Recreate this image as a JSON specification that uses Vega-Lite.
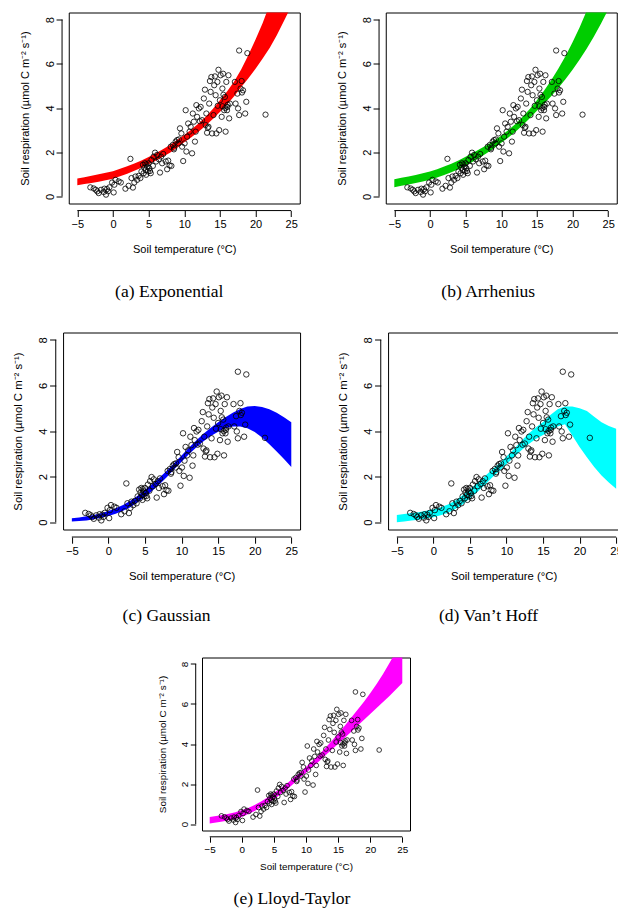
{
  "$schema": "https://vega.github.io/schema/vega-lite/v6.json",
  "background": "white",
  "padding": {"left": 12, "top": 11.5, "right": 0, "bottom": 0},
  "center": true,
  "spacing": 31,
  "datasets": {
    "pts": [
      {"T":-3.17,"R":0.41},{"T":-2.7,"R":0.36},{"T":-2.4,"R":0.3},{"T":-2.2,"R":0.23},{"T":-2.0,"R":0.15},{"T":-1.67,"R":0.3},{"T":-1.3,"R":0.2},{"T":-1.2,"R":0.35},{"T":-0.97,"R":0.08},{"T":-0.83,"R":0.33},{"T":-0.7,"R":0.23},{"T":-0.5,"R":0.41},{"T":-0.12,"R":0.63},{"T":0.1,"R":0.18},{"T":0.2,"R":0.53},{"T":0.35,"R":0.75},{"T":0.8,"R":0.68},{"T":1.1,"R":0.63},{"T":1.75,"R":0.35},{"T":2.2,"R":0.48},{"T":2.45,"R":1.7},{"T":2.6,"R":0.83},{"T":2.8,"R":0.4},{"T":3.0,"R":0.63},{"T":3.15,"R":0.9},{"T":3.4,"R":0.75},{"T":3.6,"R":0.93},{"T":3.85,"R":0.83},{"T":4.0,"R":1.13},{"T":4.2,"R":1.43},{"T":4.3,"R":1.05},{"T":4.4,"R":1.3},{"T":4.5,"R":1.5},{"T":4.6,"R":1.2},{"T":4.65,"R":0.98},{"T":4.7,"R":1.45},{"T":4.8,"R":1.35},{"T":4.9,"R":1.13},{"T":5.0,"R":1.5},{"T":5.1,"R":1.28},{"T":5.2,"R":1.15},{"T":5.3,"R":1.05},{"T":5.4,"R":1.65},{"T":5.6,"R":1.38},{"T":5.7,"R":1.8},{"T":5.9,"R":1.98},{"T":6.05,"R":1.58},{"T":6.2,"R":1.88},{"T":6.45,"R":1.68},{"T":6.6,"R":1.08},{"T":6.75,"R":1.8},{"T":6.9,"R":1.5},{"T":7.05,"R":1.92},{"T":7.4,"R":1.58},{"T":7.6,"R":1.23},{"T":7.75,"R":1.62},{"T":7.95,"R":1.4},{"T":8.1,"R":2.25},{"T":8.2,"R":1.38},{"T":8.4,"R":2.33},{"T":8.55,"R":2.13},{"T":8.6,"R":2.2},{"T":8.8,"R":2.48},{"T":9.0,"R":2.55},{"T":9.2,"R":2.4},{"T":9.25,"R":2.58},{"T":9.4,"R":3.08},{"T":9.6,"R":2.85},{"T":9.7,"R":2.25},{"T":9.85,"R":1.6},{"T":10.05,"R":2.4},{"T":10.2,"R":3.9},{"T":10.3,"R":2.03},{"T":10.4,"R":2.7},{"T":10.55,"R":3.3},{"T":10.75,"R":2.93},{"T":10.9,"R":3.15},{"T":11.1,"R":1.95},{"T":11.2,"R":3.75},{"T":11.35,"R":3.38},{"T":11.5,"R":2.48},{"T":11.6,"R":2.93},{"T":11.7,"R":4.13},{"T":11.8,"R":3.6},{"T":12.05,"R":3.98},{"T":12.2,"R":3.4},{"T":12.3,"R":4.05},{"T":12.5,"R":3.45},{"T":12.75,"R":4.43},{"T":12.9,"R":4.83},{"T":13.0,"R":3.23},{"T":13.1,"R":3.75},{"T":13.2,"R":2.88},{"T":13.3,"R":3.1},{"T":13.4,"R":3.15},{"T":13.5,"R":4.2},{"T":13.6,"R":5.22},{"T":13.7,"R":4.73},{"T":13.8,"R":5.4},{"T":13.9,"R":2.85},{"T":14.1,"R":3.68},{"T":14.2,"R":5.03},{"T":14.3,"R":5.43},{"T":14.4,"R":4.58},{"T":14.5,"R":2.85},{"T":14.65,"R":5.18},{"T":14.7,"R":4.1},{"T":14.8,"R":5.73},{"T":14.9,"R":3.0},{"T":15.0,"R":4.35},{"T":15.1,"R":5.48},{"T":15.25,"R":3.6},{"T":15.35,"R":4.88},{"T":15.35,"R":4.08},{"T":15.45,"R":5.55},{"T":15.5,"R":4.6},{"T":15.6,"R":3.9},{"T":15.7,"R":4.5},{"T":15.75,"R":4.0},{"T":15.8,"R":2.93},{"T":15.9,"R":5.18},{"T":16.0,"R":3.9},{"T":16.05,"R":4.05},{"T":16.1,"R":4.15},{"T":16.2,"R":5.48},{"T":16.3,"R":3.53},{"T":16.4,"R":4.2},{"T":17.1,"R":5.18},{"T":17.2,"R":4.2},{"T":17.45,"R":4.65},{"T":17.55,"R":3.98},{"T":17.7,"R":6.6},{"T":17.7,"R":3.68},{"T":17.9,"R":4.88},{"T":18.05,"R":5.22},{"T":18.1,"R":4.7},{"T":18.25,"R":4.8},{"T":18.55,"R":3.75},{"T":18.7,"R":4.28},{"T":18.85,"R":6.48},{"T":21.4,"R":3.7}
    ],
    "bands": [
      {"m":"a","T":-5,"lo":0.51,"hi":0.81},{"m":"a","T":-4,"lo":0.56,"hi":0.87},{"m":"a","T":-3,"lo":0.61,"hi":0.93},{"m":"a","T":-2,"lo":0.66,"hi":1.0},{"m":"a","T":-1,"lo":0.73,"hi":1.07},{"m":"a","T":0,"lo":0.8,"hi":1.14},{"m":"a","T":1,"lo":0.91,"hi":1.25},{"m":"a","T":2,"lo":1.03,"hi":1.36},{"m":"a","T":3,"lo":1.16,"hi":1.49},{"m":"a","T":4,"lo":1.3,"hi":1.63},{"m":"a","T":5,"lo":1.45,"hi":1.78},{"m":"a","T":6,"lo":1.61,"hi":1.95},{"m":"a","T":7,"lo":1.79,"hi":2.13},{"m":"a","T":8,"lo":1.98,"hi":2.33},{"m":"a","T":9,"lo":2.2,"hi":2.55},{"m":"a","T":10,"lo":2.45,"hi":2.78},{"m":"a","T":11,"lo":2.68,"hi":3.03},{"m":"a","T":12,"lo":2.93,"hi":3.3},{"m":"a","T":13,"lo":3.2,"hi":3.6},{"m":"a","T":14,"lo":3.5,"hi":3.95},{"m":"a","T":15,"lo":3.82,"hi":4.35},{"m":"a","T":16,"lo":4.16,"hi":4.75},{"m":"a","T":17,"lo":4.53,"hi":5.2},{"m":"a","T":18,"lo":4.95,"hi":5.75},{"m":"a","T":19,"lo":5.35,"hi":6.4},{"m":"a","T":20,"lo":5.78,"hi":7.1},{"m":"a","T":21,"lo":6.24,"hi":7.85},{"m":"a","T":22,"lo":6.73,"hi":8.7},{"m":"a","T":23,"lo":7.3,"hi":9.6},{"m":"a","T":24,"lo":7.95,"hi":10.6},{"m":"a","T":25,"lo":8.6,"hi":11.7},
      {"m":"b","T":-5,"lo":0.42,"hi":0.78},{"m":"b","T":-4,"lo":0.48,"hi":0.84},{"m":"b","T":-3,"lo":0.54,"hi":0.9},{"m":"b","T":-2,"lo":0.61,"hi":0.97},{"m":"b","T":-1,"lo":0.68,"hi":1.05},{"m":"b","T":0,"lo":0.76,"hi":1.13},{"m":"b","T":1,"lo":0.86,"hi":1.23},{"m":"b","T":2,"lo":0.97,"hi":1.35},{"m":"b","T":3,"lo":1.09,"hi":1.48},{"m":"b","T":4,"lo":1.23,"hi":1.63},{"m":"b","T":5,"lo":1.4,"hi":1.8},{"m":"b","T":6,"lo":1.57,"hi":1.96},{"m":"b","T":7,"lo":1.76,"hi":2.14},{"m":"b","T":8,"lo":1.96,"hi":2.33},{"m":"b","T":9,"lo":2.18,"hi":2.53},{"m":"b","T":10,"lo":2.43,"hi":2.75},{"m":"b","T":11,"lo":2.67,"hi":3.0},{"m":"b","T":12,"lo":2.93,"hi":3.28},{"m":"b","T":13,"lo":3.22,"hi":3.6},{"m":"b","T":14,"lo":3.54,"hi":3.95},{"m":"b","T":15,"lo":3.88,"hi":4.35},{"m":"b","T":16,"lo":4.19,"hi":4.78},{"m":"b","T":17,"lo":4.53,"hi":5.25},{"m":"b","T":18,"lo":4.9,"hi":5.77},{"m":"b","T":19,"lo":5.3,"hi":6.34},{"m":"b","T":20,"lo":5.73,"hi":6.97},{"m":"b","T":21,"lo":6.19,"hi":7.65},{"m":"b","T":22,"lo":6.69,"hi":8.41},{"m":"b","T":23,"lo":7.23,"hi":9.24},{"m":"b","T":24,"lo":7.82,"hi":10.15},{"m":"b","T":25,"lo":8.45,"hi":11.15},
      {"m":"c","T":-5,"lo":0.03,"hi":0.17},{"m":"c","T":-4,"lo":0.05,"hi":0.21},{"m":"c","T":-3,"lo":0.08,"hi":0.26},{"m":"c","T":-2,"lo":0.13,"hi":0.32},{"m":"c","T":-1,"lo":0.19,"hi":0.39},{"m":"c","T":0,"lo":0.27,"hi":0.49},{"m":"c","T":1,"lo":0.37,"hi":0.61},{"m":"c","T":2,"lo":0.5,"hi":0.76},{"m":"c","T":3,"lo":0.66,"hi":0.94},{"m":"c","T":4,"lo":0.87,"hi":1.16},{"m":"c","T":5,"lo":1.12,"hi":1.42},{"m":"c","T":6,"lo":1.38,"hi":1.68},{"m":"c","T":7,"lo":1.67,"hi":1.96},{"m":"c","T":8,"lo":1.98,"hi":2.27},{"m":"c","T":9,"lo":2.32,"hi":2.6},{"m":"c","T":10,"lo":2.65,"hi":2.93},{"m":"c","T":11,"lo":2.98,"hi":3.27},{"m":"c","T":12,"lo":3.28,"hi":3.58},{"m":"c","T":13,"lo":3.55,"hi":3.88},{"m":"c","T":14,"lo":3.78,"hi":4.14},{"m":"c","T":15,"lo":3.97,"hi":4.38},{"m":"c","T":16,"lo":4.12,"hi":4.6},{"m":"c","T":17,"lo":4.2,"hi":4.8},{"m":"c","T":18,"lo":4.2,"hi":4.97},{"m":"c","T":19,"lo":4.12,"hi":5.08},{"m":"c","T":20,"lo":3.96,"hi":5.1},{"m":"c","T":21,"lo":3.72,"hi":5.05},{"m":"c","T":22,"lo":3.42,"hi":4.95},{"m":"c","T":23,"lo":3.1,"hi":4.8},{"m":"c","T":24,"lo":2.77,"hi":4.6},{"m":"c","T":25,"lo":2.42,"hi":4.38},
      {"m":"d","T":-5,"lo":0.0,"hi":0.32},{"m":"d","T":-4,"lo":0.03,"hi":0.36},{"m":"d","T":-3,"lo":0.07,"hi":0.4},{"m":"d","T":-2,"lo":0.11,"hi":0.44},{"m":"d","T":-1,"lo":0.16,"hi":0.5},{"m":"d","T":0,"lo":0.22,"hi":0.57},{"m":"d","T":1,"lo":0.3,"hi":0.66},{"m":"d","T":2,"lo":0.42,"hi":0.78},{"m":"d","T":3,"lo":0.58,"hi":0.95},{"m":"d","T":4,"lo":0.78,"hi":1.18},{"m":"d","T":5,"lo":1.05,"hi":1.45},{"m":"d","T":6,"lo":1.32,"hi":1.72},{"m":"d","T":7,"lo":1.62,"hi":2.0},{"m":"d","T":8,"lo":1.95,"hi":2.3},{"m":"d","T":9,"lo":2.25,"hi":2.58},{"m":"d","T":10,"lo":2.55,"hi":2.88},{"m":"d","T":11,"lo":2.85,"hi":3.2},{"m":"d","T":12,"lo":3.15,"hi":3.55},{"m":"d","T":13,"lo":3.42,"hi":3.88},{"m":"d","T":14,"lo":3.65,"hi":4.15},{"m":"d","T":15,"lo":3.82,"hi":4.4},{"m":"d","T":16,"lo":4.0,"hi":4.7},{"m":"d","T":17,"lo":4.2,"hi":4.95},{"m":"d","T":18,"lo":4.3,"hi":5.08},{"m":"d","T":19,"lo":3.8,"hi":5.08},{"m":"d","T":20,"lo":3.3,"hi":5.0},{"m":"d","T":21,"lo":2.85,"hi":4.88},{"m":"d","T":22,"lo":2.42,"hi":4.62},{"m":"d","T":23,"lo":2.05,"hi":4.38},{"m":"d","T":24,"lo":1.74,"hi":4.22},{"m":"d","T":25,"lo":1.47,"hi":4.1},
      {"m":"e","T":-5,"lo":0.03,"hi":0.35},{"m":"e","T":-4,"lo":0.08,"hi":0.4},{"m":"e","T":-3,"lo":0.13,"hi":0.46},{"m":"e","T":-2,"lo":0.19,"hi":0.52},{"m":"e","T":-1,"lo":0.26,"hi":0.59},{"m":"e","T":0,"lo":0.36,"hi":0.7},{"m":"e","T":1,"lo":0.5,"hi":0.8},{"m":"e","T":2,"lo":0.65,"hi":0.95},{"m":"e","T":3,"lo":0.85,"hi":1.13},{"m":"e","T":4,"lo":1.04,"hi":1.33},{"m":"e","T":5,"lo":1.24,"hi":1.55},{"m":"e","T":6,"lo":1.48,"hi":1.78},{"m":"e","T":7,"lo":1.72,"hi":2.02},{"m":"e","T":8,"lo":2.0,"hi":2.3},{"m":"e","T":9,"lo":2.28,"hi":2.55},{"m":"e","T":10,"lo":2.57,"hi":2.85},{"m":"e","T":11,"lo":2.85,"hi":3.15},{"m":"e","T":12,"lo":3.12,"hi":3.45},{"m":"e","T":13,"lo":3.42,"hi":3.8},{"m":"e","T":14,"lo":3.72,"hi":4.15},{"m":"e","T":15,"lo":4.0,"hi":4.52},{"m":"e","T":16,"lo":4.3,"hi":4.9},{"m":"e","T":17,"lo":4.6,"hi":5.3},{"m":"e","T":18,"lo":4.9,"hi":5.7},{"m":"e","T":19,"lo":5.2,"hi":6.1},{"m":"e","T":20,"lo":5.5,"hi":6.53},{"m":"e","T":21,"lo":5.8,"hi":7.0},{"m":"e","T":22,"lo":6.1,"hi":7.5},{"m":"e","T":23,"lo":6.4,"hi":8.05},{"m":"e","T":24,"lo":6.72,"hi":8.6},{"m":"e","T":25,"lo":7.05,"hi":9.15}
    ]
  },
  "vconcat": [
    {
      "spacing": 34,
      "hconcat": [
        {
          "width": 231, "height": 191,
          "title": {"text": "(a) Exponential", "orient": "bottom", "anchor": "middle", "dx": -15, "offset": 28, "fontSize": 17.5, "baseline": "top"},
          "layer": [
            {"data": {"name": "bands"}, "transform": [{"filter": "datum.m == 'a'"}],
             "mark": {"type": "area", "color": "#ff0000", "opacity": 1, "clip": true},
             "encoding": {
               "x": {"field": "T", "type": "quantitative", "scale": {"domain": [-6.2, 26.2], "nice": false, "zero": false},
                     "axis": {"values": [-5, 0, 5, 10, 15, 20, 25], "labelOverlap": false, "offset": 7, "tickSize": 6, "labelFontSize": 11, "labelPadding": 2, "titleFontSize": 11, "titlePadding": 14, "title": "Soil temperature (°C)"}},
               "y": {"field": "lo", "type": "quantitative", "scale": {"domain": [-0.32, 8.32], "nice": false, "zero": false},
                     "axis": {"values": [0, 2, 4, 6, 8], "labelOverlap": false, "offset": 6.7, "tickSize": 6, "labelFontSize": 11, "labelPadding": 3, "titleFontSize": 11, "titlePadding": 14, "title": "Soil respiration (µmol C m⁻² s⁻¹)"}},
               "y2": {"field": "hi"}
             }},
            {"data": {"name": "pts"},
             "mark": {"type": "point", "shape": "circle", "filled": false, "color": "black", "opacity": 1, "strokeWidth": 0.8, "size": 28},
             "encoding": {
               "x": {"field": "T", "type": "quantitative", "axis": {"values": [-5, 0, 5, 10, 15, 20, 25], "labelOverlap": false, "offset": 7, "tickSize": 6, "labelFontSize": 11, "labelPadding": 2, "titleFontSize": 11, "titlePadding": 14, "title": "Soil temperature (°C)"}},
               "y": {"field": "R", "type": "quantitative", "axis": {"values": [0, 2, 4, 6, 8], "labelOverlap": false, "offset": 6.7, "tickSize": 6, "labelFontSize": 11, "labelPadding": 3, "titleFontSize": 11, "titlePadding": 14, "title": "Soil respiration (µmol C m⁻² s⁻¹)"}}}},
            {"data": {"values": [{"x1": -5, "x2": 25, "y0": -0.64, "xa": -7.14, "y1": 0, "y2": 8}]},
             "layer": [
               {"mark": {"type": "rule", "color": "black", "strokeWidth": 1},
                "encoding": {"x": {"field": "x1", "type": "quantitative", "axis": {"values": [-5, 0, 5, 10, 15, 20, 25], "labelOverlap": false, "offset": 7, "tickSize": 6, "labelFontSize": 11, "labelPadding": 2, "titleFontSize": 11, "titlePadding": 14, "title": "Soil temperature (°C)"}}, "x2": {"field": "x2"}, "y": {"field": "y0", "type": "quantitative", "axis": {"values": [0, 2, 4, 6, 8], "labelOverlap": false, "offset": 6.7, "tickSize": 6, "labelFontSize": 11, "labelPadding": 3, "titleFontSize": 11, "titlePadding": 14, "title": "Soil respiration (µmol C m⁻² s⁻¹)"}}}},
               {"mark": {"type": "rule", "color": "black", "strokeWidth": 1},
                "encoding": {"x": {"field": "xa", "type": "quantitative", "axis": {"values": [-5, 0, 5, 10, 15, 20, 25], "labelOverlap": false, "offset": 7, "tickSize": 6, "labelFontSize": 11, "labelPadding": 2, "titleFontSize": 11, "titlePadding": 14, "title": "Soil temperature (°C)"}}, "y": {"field": "y1", "type": "quantitative", "axis": {"values": [0, 2, 4, 6, 8], "labelOverlap": false, "offset": 6.7, "tickSize": 6, "labelFontSize": 11, "labelPadding": 3, "titleFontSize": 11, "titlePadding": 14, "title": "Soil respiration (µmol C m⁻² s⁻¹)"}}, "y2": {"field": "y2"}}}
             ]}
          ]
        },
        {
          "width": 231, "height": 191,
          "title": {"text": "(b) Arrhenius", "orient": "bottom", "anchor": "middle", "dx": -13, "offset": 28, "fontSize": 17.5, "baseline": "top"},
          "layer": [
            {"data": {"name": "bands"}, "transform": [{"filter": "datum.m == 'b'"}],
             "mark": {"type": "area", "color": "#00cd00", "opacity": 1, "clip": true},
             "encoding": {
               "x": {"field": "T", "type": "quantitative", "scale": {"domain": [-6.2, 26.2], "nice": false, "zero": false},
                     "axis": {"values": [-5, 0, 5, 10, 15, 20, 25], "labelOverlap": false, "offset": 7, "tickSize": 6, "labelFontSize": 11, "labelPadding": 2, "titleFontSize": 11, "titlePadding": 14, "title": "Soil temperature (°C)"}},
               "y": {"field": "lo", "type": "quantitative", "scale": {"domain": [-0.32, 8.32], "nice": false, "zero": false},
                     "axis": {"values": [0, 2, 4, 6, 8], "labelOverlap": false, "offset": 6.7, "tickSize": 6, "labelFontSize": 11, "labelPadding": 3, "titleFontSize": 11, "titlePadding": 14, "title": "Soil respiration (µmol C m⁻² s⁻¹)"}},
               "y2": {"field": "hi"}
             }},
            {"data": {"name": "pts"},
             "mark": {"type": "point", "shape": "circle", "filled": false, "color": "black", "opacity": 1, "strokeWidth": 0.8, "size": 28},
             "encoding": {
               "x": {"field": "T", "type": "quantitative", "axis": {"values": [-5, 0, 5, 10, 15, 20, 25], "labelOverlap": false, "offset": 7, "tickSize": 6, "labelFontSize": 11, "labelPadding": 2, "titleFontSize": 11, "titlePadding": 14, "title": "Soil temperature (°C)"}},
               "y": {"field": "R", "type": "quantitative", "axis": {"values": [0, 2, 4, 6, 8], "labelOverlap": false, "offset": 6.7, "tickSize": 6, "labelFontSize": 11, "labelPadding": 3, "titleFontSize": 11, "titlePadding": 14, "title": "Soil respiration (µmol C m⁻² s⁻¹)"}}}},
            {"data": {"values": [{"x1": -5, "x2": 25, "y0": -0.64, "xa": -7.14, "y1": 0, "y2": 8}]},
             "layer": [
               {"mark": {"type": "rule", "color": "black", "strokeWidth": 1},
                "encoding": {"x": {"field": "x1", "type": "quantitative", "axis": {"values": [-5, 0, 5, 10, 15, 20, 25], "labelOverlap": false, "offset": 7, "tickSize": 6, "labelFontSize": 11, "labelPadding": 2, "titleFontSize": 11, "titlePadding": 14, "title": "Soil temperature (°C)"}}, "x2": {"field": "x2"}, "y": {"field": "y0", "type": "quantitative", "axis": {"values": [0, 2, 4, 6, 8], "labelOverlap": false, "offset": 6.7, "tickSize": 6, "labelFontSize": 11, "labelPadding": 3, "titleFontSize": 11, "titlePadding": 14, "title": "Soil respiration (µmol C m⁻² s⁻¹)"}}}},
               {"mark": {"type": "rule", "color": "black", "strokeWidth": 1},
                "encoding": {"x": {"field": "xa", "type": "quantitative", "axis": {"values": [-5, 0, 5, 10, 15, 20, 25], "labelOverlap": false, "offset": 7, "tickSize": 6, "labelFontSize": 11, "labelPadding": 2, "titleFontSize": 11, "titlePadding": 14, "title": "Soil temperature (°C)"}}, "y": {"field": "y1", "type": "quantitative", "axis": {"values": [0, 2, 4, 6, 8], "labelOverlap": false, "offset": 6.7, "tickSize": 6, "labelFontSize": 11, "labelPadding": 3, "titleFontSize": 11, "titlePadding": 14, "title": "Soil respiration (µmol C m⁻² s⁻¹)"}}, "y2": {"field": "y2"}}}
             ]}
          ]
        }
      ]
    },
    {
      "spacing": 36,
      "hconcat": [
        {
          "width": 237, "height": 197,
          "title": {"text": "(c) Gaussian", "orient": "bottom", "anchor": "middle", "dx": -15, "offset": 25, "fontSize": 17.5, "baseline": "top"},
          "layer": [
            {"data": {"name": "bands"}, "transform": [{"filter": "datum.m == 'c'"}],
             "mark": {"type": "area", "color": "#0000ff", "opacity": 1, "clip": true},
             "encoding": {
               "x": {"field": "T", "type": "quantitative", "scale": {"domain": [-6.2, 26.2], "nice": false, "zero": false},
                     "axis": {"values": [-5, 0, 5, 10, 15, 20, 25], "labelOverlap": false, "offset": 7.5, "tickSize": 6.2, "labelFontSize": 11.3, "labelPadding": 2, "titleFontSize": 11.3, "titlePadding": 14, "title": "Soil temperature (°C)"}},
               "y": {"field": "lo", "type": "quantitative", "scale": {"domain": [-0.32, 8.32], "nice": false, "zero": false},
                     "axis": {"values": [0, 2, 4, 6, 8], "labelOverlap": false, "offset": 7.3, "tickSize": 6.2, "labelFontSize": 11.3, "labelPadding": 3, "titleFontSize": 11.3, "titlePadding": 14, "title": "Soil respiration (µmol C m⁻² s⁻¹)"}},
               "y2": {"field": "hi"}
             }},
            {"data": {"name": "pts"},
             "mark": {"type": "point", "shape": "circle", "filled": false, "color": "black", "opacity": 1, "strokeWidth": 0.8, "size": 30},
             "encoding": {
               "x": {"field": "T", "type": "quantitative", "axis": {"values": [-5, 0, 5, 10, 15, 20, 25], "labelOverlap": false, "offset": 7.5, "tickSize": 6.2, "labelFontSize": 11.3, "labelPadding": 2, "titleFontSize": 11.3, "titlePadding": 14, "title": "Soil temperature (°C)"}},
               "y": {"field": "R", "type": "quantitative", "axis": {"values": [0, 2, 4, 6, 8], "labelOverlap": false, "offset": 7.3, "tickSize": 6.2, "labelFontSize": 11.3, "labelPadding": 3, "titleFontSize": 11.3, "titlePadding": 14, "title": "Soil respiration (µmol C m⁻² s⁻¹)"}}}},
            {"data": {"values": [{"x1": -5, "x2": 25, "y0": -0.65, "xa": -7.2, "y1": 0, "y2": 8}]},
             "layer": [
               {"mark": {"type": "rule", "color": "black", "strokeWidth": 1},
                "encoding": {"x": {"field": "x1", "type": "quantitative", "axis": {"values": [-5, 0, 5, 10, 15, 20, 25], "labelOverlap": false, "offset": 7.5, "tickSize": 6.2, "labelFontSize": 11.3, "labelPadding": 2, "titleFontSize": 11.3, "titlePadding": 14, "title": "Soil temperature (°C)"}}, "x2": {"field": "x2"}, "y": {"field": "y0", "type": "quantitative", "axis": {"values": [0, 2, 4, 6, 8], "labelOverlap": false, "offset": 7.3, "tickSize": 6.2, "labelFontSize": 11.3, "labelPadding": 3, "titleFontSize": 11.3, "titlePadding": 14, "title": "Soil respiration (µmol C m⁻² s⁻¹)"}}}},
               {"mark": {"type": "rule", "color": "black", "strokeWidth": 1},
                "encoding": {"x": {"field": "xa", "type": "quantitative", "axis": {"values": [-5, 0, 5, 10, 15, 20, 25], "labelOverlap": false, "offset": 7.5, "tickSize": 6.2, "labelFontSize": 11.3, "labelPadding": 2, "titleFontSize": 11.3, "titlePadding": 14, "title": "Soil temperature (°C)"}}, "y": {"field": "y1", "type": "quantitative", "axis": {"values": [0, 2, 4, 6, 8], "labelOverlap": false, "offset": 7.3, "tickSize": 6.2, "labelFontSize": 11.3, "labelPadding": 3, "titleFontSize": 11.3, "titlePadding": 14, "title": "Soil respiration (µmol C m⁻² s⁻¹)"}}, "y2": {"field": "y2"}}}
             ]}
          ]
        },
        {
          "width": 231, "height": 197,
          "title": {"text": "(d) Van’t Hoff", "orient": "bottom", "anchor": "middle", "dx": -15, "offset": 25, "fontSize": 17.5, "baseline": "top"},
          "layer": [
            {"data": {"name": "bands"}, "transform": [{"filter": "datum.m == 'd'"}],
             "mark": {"type": "area", "color": "#00ffff", "opacity": 1, "clip": true},
             "encoding": {
               "x": {"field": "T", "type": "quantitative", "scale": {"domain": [-6.2, 25.4], "nice": false, "zero": false},
                     "axis": {"values": [-5, 0, 5, 10, 15, 20, 25], "labelOverlap": false, "offset": 7.5, "tickSize": 6.2, "labelFontSize": 11.3, "labelPadding": 2, "titleFontSize": 11.3, "titlePadding": 14, "title": "Soil temperature (°C)"}},
               "y": {"field": "lo", "type": "quantitative", "scale": {"domain": [-0.32, 8.32], "nice": false, "zero": false},
                     "axis": {"values": [0, 2, 4, 6, 8], "labelOverlap": false, "offset": 7.3, "tickSize": 6.2, "labelFontSize": 11.3, "labelPadding": 3, "titleFontSize": 11.3, "titlePadding": 14, "title": "Soil respiration (µmol C m⁻² s⁻¹)"}},
               "y2": {"field": "hi"}
             }},
            {"data": {"name": "pts"},
             "mark": {"type": "point", "shape": "circle", "filled": false, "color": "black", "opacity": 1, "strokeWidth": 0.8, "size": 30},
             "encoding": {
               "x": {"field": "T", "type": "quantitative", "axis": {"values": [-5, 0, 5, 10, 15, 20, 25], "labelOverlap": false, "offset": 7.5, "tickSize": 6.2, "labelFontSize": 11.3, "labelPadding": 2, "titleFontSize": 11.3, "titlePadding": 14, "title": "Soil temperature (°C)"}},
               "y": {"field": "R", "type": "quantitative", "axis": {"values": [0, 2, 4, 6, 8], "labelOverlap": false, "offset": 7.3, "tickSize": 6.2, "labelFontSize": 11.3, "labelPadding": 3, "titleFontSize": 11.3, "titlePadding": 14, "title": "Soil respiration (µmol C m⁻² s⁻¹)"}}}},
            {"data": {"values": [{"x1": -5, "x2": 25, "y0": -0.65, "xa": -7.2, "y1": 0, "y2": 8}]},
             "layer": [
               {"mark": {"type": "rule", "color": "black", "strokeWidth": 1},
                "encoding": {"x": {"field": "x1", "type": "quantitative", "axis": {"values": [-5, 0, 5, 10, 15, 20, 25], "labelOverlap": false, "offset": 7.5, "tickSize": 6.2, "labelFontSize": 11.3, "labelPadding": 2, "titleFontSize": 11.3, "titlePadding": 14, "title": "Soil temperature (°C)"}}, "x2": {"field": "x2"}, "y": {"field": "y0", "type": "quantitative", "axis": {"values": [0, 2, 4, 6, 8], "labelOverlap": false, "offset": 7.3, "tickSize": 6.2, "labelFontSize": 11.3, "labelPadding": 3, "titleFontSize": 11.3, "titlePadding": 14, "title": "Soil respiration (µmol C m⁻² s⁻¹)"}}}},
               {"mark": {"type": "rule", "color": "black", "strokeWidth": 1},
                "encoding": {"x": {"field": "xa", "type": "quantitative", "axis": {"values": [-5, 0, 5, 10, 15, 20, 25], "labelOverlap": false, "offset": 7.5, "tickSize": 6.2, "labelFontSize": 11.3, "labelPadding": 2, "titleFontSize": 11.3, "titlePadding": 14, "title": "Soil temperature (°C)"}}, "y": {"field": "y1", "type": "quantitative", "axis": {"values": [0, 2, 4, 6, 8], "labelOverlap": false, "offset": 7.3, "tickSize": 6.2, "labelFontSize": 11.3, "labelPadding": 3, "titleFontSize": 11.3, "titlePadding": 14, "title": "Soil respiration (µmol C m⁻² s⁻¹)"}}, "y2": {"field": "y2"}}}
             ]}
          ]
        }
      ]
    },
    {
      "spacing": 0,
      "hconcat": [
        {
          "width": 208, "height": 173,
          "title": {"text": "(e) Lloyd-Taylor", "orient": "bottom", "anchor": "middle", "dx": -14, "offset": 18, "fontSize": 17.5, "baseline": "top"},
          "layer": [
            {"data": {"name": "bands"}, "transform": [{"filter": "datum.m == 'e'"}],
             "mark": {"type": "area", "color": "#ff00ff", "opacity": 1, "clip": true},
             "encoding": {
               "x": {"field": "T", "type": "quantitative", "scale": {"domain": [-6.2, 26.2], "nice": false, "zero": false},
                     "axis": {"values": [-5, 0, 5, 10, 15, 20, 25], "labelOverlap": false, "offset": 6.3, "tickSize": 5.4, "labelFontSize": 9.9, "labelPadding": 1.8, "titleFontSize": 9.9, "titlePadding": 8, "title": "Soil temperature (°C)"}},
               "y": {"field": "lo", "type": "quantitative", "scale": {"domain": [-0.32, 8.32], "nice": false, "zero": false},
                     "axis": {"values": [0, 2, 4, 6, 8], "labelOverlap": false, "offset": 6.3, "tickSize": 5.4, "labelFontSize": 9.9, "labelPadding": 2.7, "titleFontSize": 9.9, "titlePadding": 12.6, "title": "Soil respiration (µmol C m⁻² s⁻¹)"}},
               "y2": {"field": "hi"}
             }},
            {"data": {"name": "pts"},
             "mark": {"type": "point", "shape": "circle", "filled": false, "color": "black", "opacity": 1, "strokeWidth": 0.75, "size": 22},
             "encoding": {
               "x": {"field": "T", "type": "quantitative", "axis": {"values": [-5, 0, 5, 10, 15, 20, 25], "labelOverlap": false, "offset": 6.3, "tickSize": 5.4, "labelFontSize": 9.9, "labelPadding": 1.8, "titleFontSize": 9.9, "titlePadding": 8, "title": "Soil temperature (°C)"}},
               "y": {"field": "R", "type": "quantitative", "axis": {"values": [0, 2, 4, 6, 8], "labelOverlap": false, "offset": 6.3, "tickSize": 5.4, "labelFontSize": 9.9, "labelPadding": 2.7, "titleFontSize": 9.9, "titlePadding": 12.6, "title": "Soil respiration (µmol C m⁻² s⁻¹)"}}}},
            {"data": {"values": [{"x1": -5, "x2": 25, "y0": -0.635, "xa": -7.18, "y1": 0, "y2": 8}]},
             "layer": [
               {"mark": {"type": "rule", "color": "black", "strokeWidth": 1},
                "encoding": {"x": {"field": "x1", "type": "quantitative", "axis": {"values": [-5, 0, 5, 10, 15, 20, 25], "labelOverlap": false, "offset": 6.3, "tickSize": 5.4, "labelFontSize": 9.9, "labelPadding": 1.8, "titleFontSize": 9.9, "titlePadding": 8, "title": "Soil temperature (°C)"}}, "x2": {"field": "x2"}, "y": {"field": "y0", "type": "quantitative", "axis": {"values": [0, 2, 4, 6, 8], "labelOverlap": false, "offset": 6.3, "tickSize": 5.4, "labelFontSize": 9.9, "labelPadding": 2.7, "titleFontSize": 9.9, "titlePadding": 12.6, "title": "Soil respiration (µmol C m⁻² s⁻¹)"}}}},
               {"mark": {"type": "rule", "color": "black", "strokeWidth": 1},
                "encoding": {"x": {"field": "xa", "type": "quantitative", "axis": {"values": [-5, 0, 5, 10, 15, 20, 25], "labelOverlap": false, "offset": 6.3, "tickSize": 5.4, "labelFontSize": 9.9, "labelPadding": 1.8, "titleFontSize": 9.9, "titlePadding": 8, "title": "Soil temperature (°C)"}}, "y": {"field": "y1", "type": "quantitative", "axis": {"values": [0, 2, 4, 6, 8], "labelOverlap": false, "offset": 6.3, "tickSize": 5.4, "labelFontSize": 9.9, "labelPadding": 2.7, "titleFontSize": 9.9, "titlePadding": 12.6, "title": "Soil respiration (µmol C m⁻² s⁻¹)"}}, "y2": {"field": "y2"}}}
             ]}
          ]
        },
        {
          "width": 73, "height": 10,
          "view": {"stroke": null},
          "data": {"values": [{}]},
          "mark": {"type": "point", "opacity": 0},
          "encoding": {}
        }
      ]
    }
  ],
  "config": {
    "font": "Liberation Sans",
    "view": {"stroke": "black", "strokeWidth": 1},
    "axis": {"domain": false, "grid": false, "ticks": true, "tickColor": "black", "tickWidth": 1, "labelColor": "black", "titleColor": "black", "labelFont": "Liberation Sans", "titleFont": "Liberation Sans", "titleFontWeight": "normal", "labelFlush": false},
    "axisY": {"labelAngle": -90, "labelAlign": "center", "labelBaseline": "alphabetic"},
    "title": {"font": "Liberation Serif", "fontWeight": "normal", "color": "black"}
  }
}
